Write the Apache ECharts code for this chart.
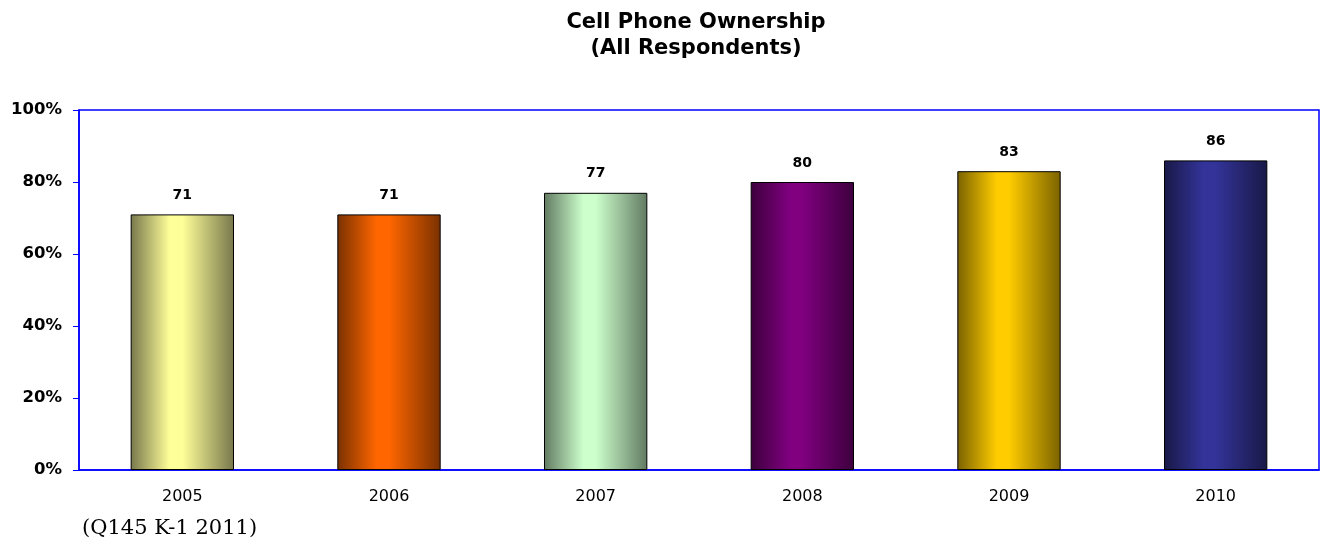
<!DOCTYPE html>
<html>
<head>
<meta charset="utf-8">
<script src="https://cdn.jsdelivr.net/npm/echarts@6/dist/echarts.min.js"></script>
<style>html,body{margin:0;padding:0;background:#fff;}#c{width:1322px;height:546px;}</style>
</head>
<body>
<div id="c"></div>
<script>
const categories = ['2005', '2006', '2007', '2008', '2009', '2010'];
const ownership = [71, 71, 77, 80, 83, 86];
const yTicks = [0, 20, 40, 60, 80, 100];
const lightColors = ['#ffff99', '#ff6600', '#ccffcc', '#800080', '#ffcc00', '#333399'];
const darkColors = ['#77774c', '#7a3100', '#627a62', '#3d003d', '#7a6200', '#191947'];
const SANS = '"DejaVu Sans", Verdana, sans-serif';

function grad(i) {
  return new echarts.graphic.LinearGradient(0, 0, 1, 0, [
    {offset: 0, color: darkColors[i]},
    {offset: 0.38, color: lightColors[i]},
    {offset: 0.5, color: lightColors[i]},
    {offset: 1, color: darkColors[i]}
  ]);
}

const chart = echarts.init(document.getElementById('c'), null, {renderer: 'canvas'});
chart.setOption({
  animation: false,
  backgroundColor: '#fff',
  title: {
    text: 'Cell Phone Ownership\n(All Respondents)',
    left: 691, top: 5, textAlign: 'center',
    textStyle: {fontFamily: SANS, fontWeight: 'bold', fontSize: 21, color: '#000', lineHeight: 26}
  },
  graphic: [{
    type: 'text', left: 82, top: 518,
    style: {text: '(Q145 K-1 2011)', font: '21px "DejaVu Serif", serif', fill: '#000'}
  }],
  grid: {left: 79, right: 3, top: 110, bottom: 76, show: true, borderColor: '#0000ff', borderWidth: 1.5, backgroundColor: 'transparent'},
  xAxis: {
    type: 'category', data: categories,
    axisLine: {lineStyle: {color: '#0000ff', width: 1.5}},
    axisTick: {show: false},
    axisLabel: {fontFamily: SANS, fontSize: 16, color: '#000', margin: 19}
  },
  yAxis: {
    type: 'value', min: 0, max: 100, interval: 20,
    axisLine: {show: true, lineStyle: {color: '#0000ff', width: 1.5}},
    axisTick: {show: true, length: 6, lineStyle: {color: '#0000ff'}},
    splitLine: {show: false},
    axisLabel: {fontFamily: SANS, fontWeight: 'bold', fontSize: 16.5, color: '#000', margin: 17,
      formatter: v => yTicks.includes(v) ? v + '%' : ''}
  },
  series: [{
    type: 'bar', barWidth: '50%',
    data: ownership.map((v, i) => ({value: v, itemStyle: {color: grad(i)}})),
    itemStyle: {borderColor: '#000', borderWidth: 1},
    label: {show: true, position: 'top', distance: 12, fontFamily: SANS, fontWeight: 'bold', fontSize: 14, color: '#000'}
  }]
});
</script>
</body>
</html>
